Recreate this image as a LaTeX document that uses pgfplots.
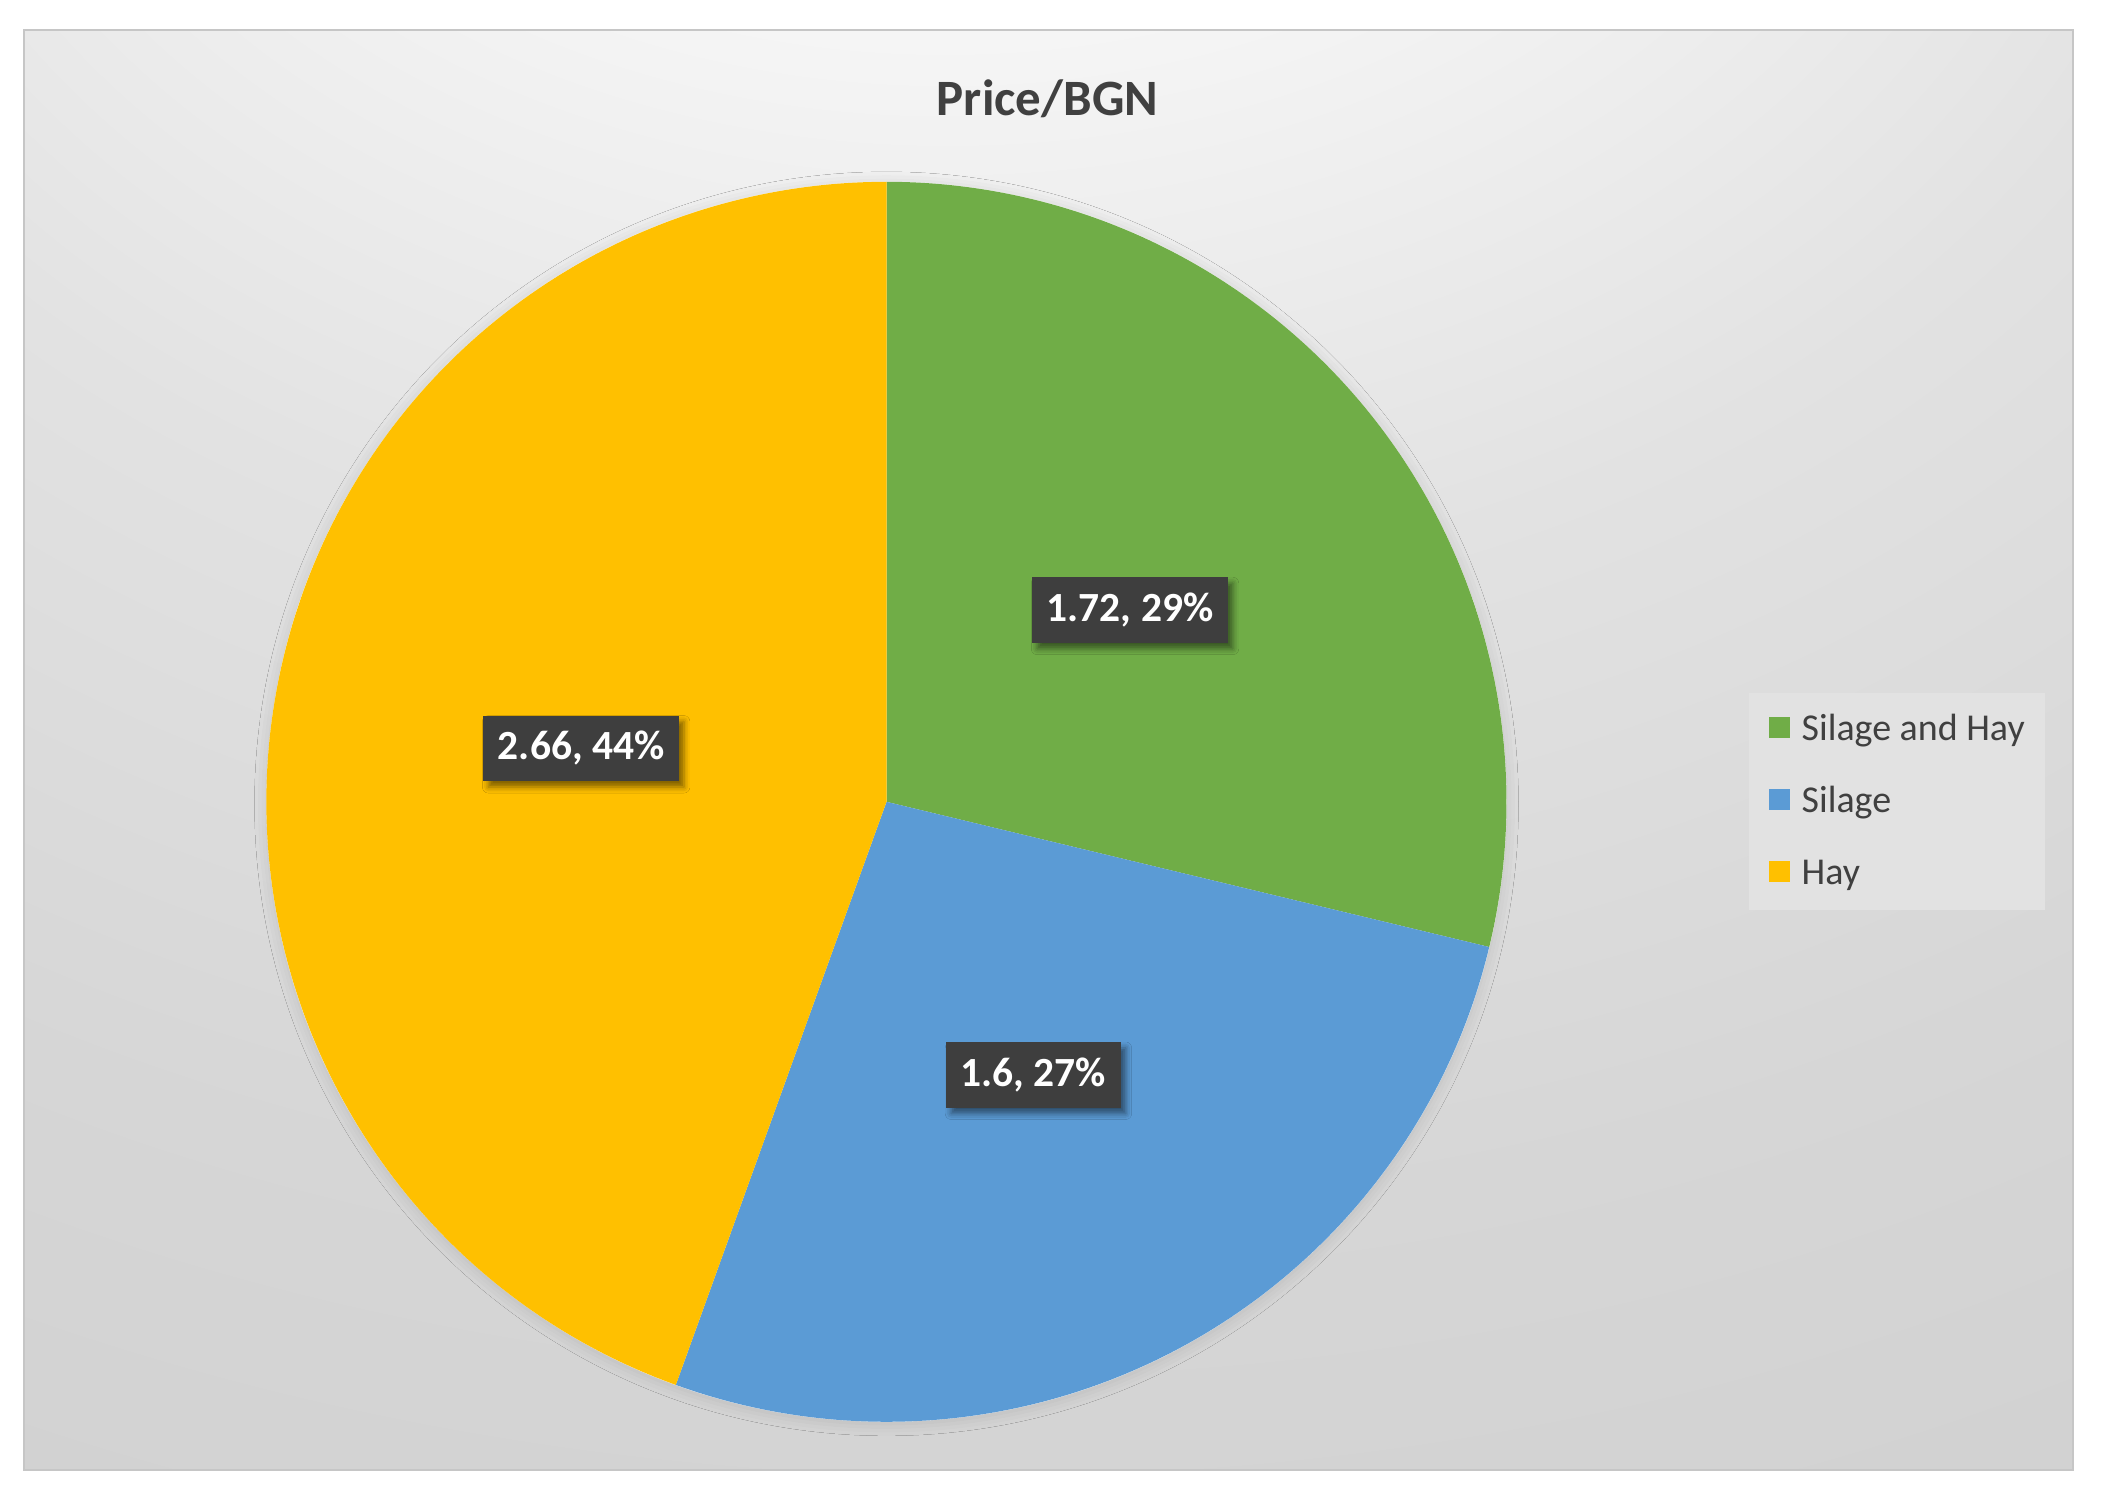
\documentclass[border=0pt]{standalone}
\usepackage{fontspec}
\setmainfont{Carlito}
\usepackage{pgfplots}
\pgfplotsset{compat=1.18}
\usepackage{pgfplotstable}
\usetikzlibrary{shadows.blur}
\definecolor{cGreen}{RGB}{112,173,71}
\definecolor{cBlue}{RGB}{91,155,213}
\definecolor{cGold}{RGB}{255,192,0}
\definecolor{lblbg}{RGB}{62,62,62}
\definecolor{txt}{RGB}{64,64,64}
\definecolor{legbg}{RGB}{226,226,226}
\definecolor{bgA}{RGB}{243,243,243}
\definecolor{bgB}{RGB}{226,226,226}
\definecolor{bgC}{RGB}{214,214,214}
\definecolor{bgD}{RGB}{204,204,204}
\definecolor{bgE}{RGB}{192,192,192}
\pgfdeclareradialshading{bgshade}{\pgfpoint{-3bp}{50bp}}{color(0bp)=(white); color(10bp)=(white); color(19bp)=(bgA); color(31bp)=(bgB); color(46bp)=(bgC); color(70bp)=(bgD); color(112bp)=(bgE)}
\tikzset{lbl/.style={fill=lblbg, text=white, font=\bfseries\fontsize{11.8}{14}\selectfont,
    inner xsep=0.145cm, inner ysep=0pt, minimum height=0.655cm,
    blur shadow={shadow xshift=0.05cm, shadow yshift=-0.06cm, shadow blur radius=0.06cm, shadow opacity=50}}}

\pgfplotstableread{
label value
{Silage and Hay} 1.72
Silage 1.6
Hay 2.66
}\pricedata

\begin{document}
\begin{tikzpicture}
\pgfplotstablegetelem{0}{value}\of\pricedata \edef\va{\pgfplotsretval}
\pgfplotstablegetelem{1}{value}\of\pricedata \edef\vb{\pgfplotsretval}
\pgfplotstablegetelem{2}{value}\of\pricedata \edef\vc{\pgfplotsretval}
\pgfmathsetmacro\tot{\va+\vb+\vc}
\pgfmathsetmacro\aA{90-360*\va/\tot}
\pgfmathsetmacro\aB{\aA-360*\vb/\tot}
\pgfmathsetmacro\aC{\aB-360*\vc/\tot}
\pgfmathsetmacro\mA{(90+\aA)/2}
\pgfmathsetmacro\mB{(\aA+\aB)/2}
\pgfmathsetmacro\mC{(\aB+\aC)/2}
\pgfmathtruncatemacro\pA{round(100*\va/\tot)}
\pgfmathtruncatemacro\pB{round(100*\vb/\tot)}
\pgfmathtruncatemacro\pC{round(100*\vc/\tot)}

\fill[white] (0,0) rectangle (21.06cm,-14.95cm);
\shade[shading=bgshade] (0.24cm,-0.30cm) rectangle (20.73cm,-14.70cm);
\draw[gray!45, line width=0.6pt] (0.24cm,-0.30cm) rectangle (20.73cm,-14.70cm);
\node[font=\bfseries\fontsize{14.5}{17}\selectfont, text=txt, anchor=base] at (10.475cm,-1.15cm) {Price/BGN};

\begin{axis}[
  hide axis,
  x=6.2cm, y=6.2cm,
  xmin=-1, xmax=1, ymin=-1, ymax=1,
  anchor=origin, at={(8.865cm,-8.018cm)},
  clip=false,
  legend image code/.code={\fill[#1] (0cm,-0.085cm) rectangle (0.21cm,0.125cm);},
  legend cell align=left,
  legend style={at={(1.19476,0.58855)}, anchor=north west, draw=none, fill=legbg,
    inner xsep=0.2cm, inner ysep=0.075cm, row sep=0.14cm, column sep=0.12cm,
    font=\fontsize{10.8}{13}\selectfont, text=txt,
    nodes={inner xsep=0pt, inner ysep=0.1cm, text height=0.30cm, text depth=0.08cm}},
]
\addlegendimage{fill=cGreen, draw=none}
\addlegendentry{Silage and Hay}
\addlegendimage{fill=cBlue, draw=none}
\addlegendentry{Silage}
\addlegendimage{fill=cGold, draw=none}
\addlegendentry{Hay}

\path[blur shadow={shadow xshift=0cm, shadow yshift=-0.02cm, shadow blur radius=0.12cm, shadow opacity=12}, fill=white] (axis cs:0,0) circle[radius=6.2cm];
\fill[cGreen] (axis cs:0,0) -- (axis cs:{cos(90)},{sin(90)}) arc[start angle=90, end angle=\aA, radius=6.2cm] -- cycle;
\fill[cBlue] (axis cs:0,0) -- (axis cs:{cos(\aA)},{sin(\aA)}) arc[start angle=\aA, end angle=\aB, radius=6.2cm] -- cycle;
\fill[cGold] (axis cs:0,0) -- (axis cs:{cos(\aB)},{sin(\aB)}) arc[start angle=\aB, end angle=\aC, radius=6.2cm] -- cycle;

\node[lbl] at (axis cs:{0.5*cos(\mA)},{0.5*sin(\mA)}) {\va, \pA\%};
\node[lbl] at (axis cs:{0.5*cos(\mB)},{0.5*sin(\mB)}) {\vb, \pB\%};
\node[lbl] at (axis cs:{0.5*cos(\mC)},{0.5*sin(\mC)}) {\vc, \pC\%};
\end{axis}
\end{tikzpicture}
\end{document}
